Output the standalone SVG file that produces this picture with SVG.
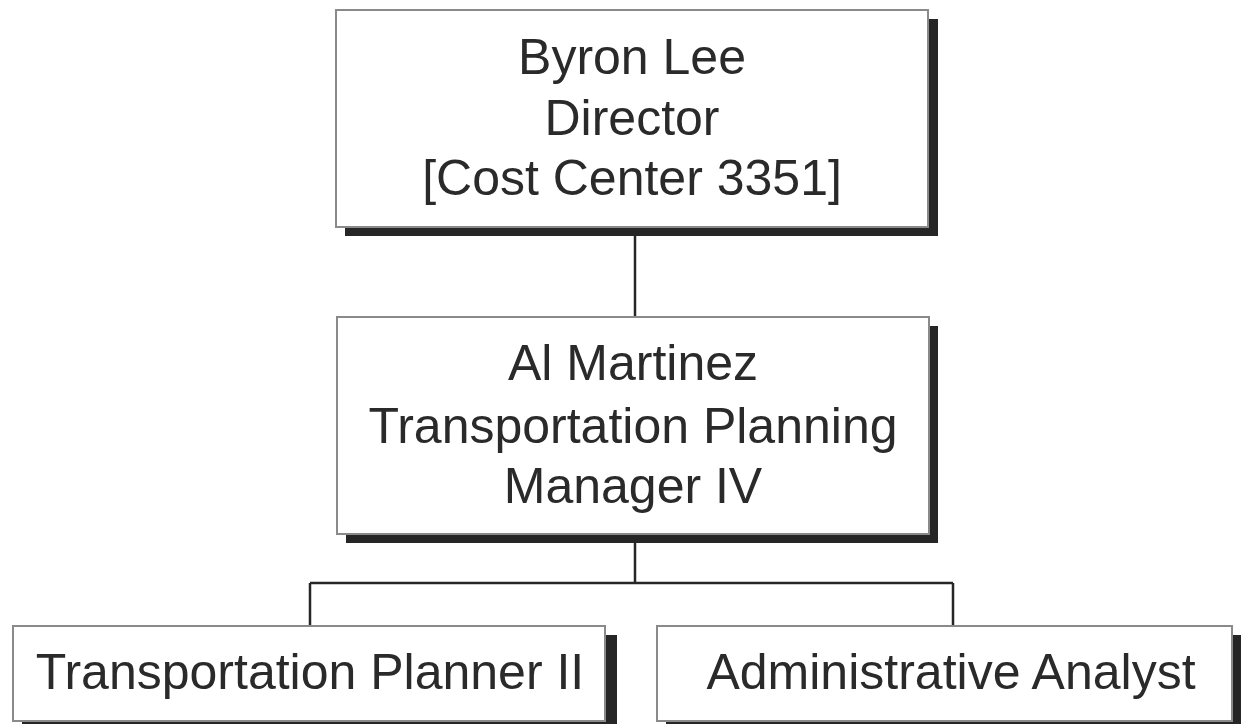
<svg xmlns="http://www.w3.org/2000/svg" width="1241" height="724" viewBox="0 0 1241 724">
<style>
.shadow{fill:#262626;stroke:none}
.box{fill:#ffffff;stroke:#8a8a8a;stroke-width:2}
.t{font-family:"Liberation Sans",Arial,sans-serif;font-size:50px;fill:#2a2a2a;text-anchor:middle}
.c{fill:none;stroke:#262626;stroke-width:2.5}
</style>
<rect width="1241" height="724" fill="#ffffff"/>
<g id="connectors">
<path class="c" d="M635 236 V317"/>
<path class="c" d="M635 543 V583 M310 583 H953 M310 583 V626 M953 583 V626"/>
</g>
<g id="node-director">
<rect class="shadow" x="345" y="19" width="593" height="217"/>
<rect class="box" x="336" y="10" width="592" height="217"/>
<text class="t" x="632" y="74">Byron Lee</text>
<text class="t" x="632" y="135">Director</text>
<text class="t" x="632" y="195">[Cost Center 3351]</text>
</g>
<g id="node-manager">
<rect class="shadow" x="346" y="326" width="592" height="217"/>
<rect class="box" x="337" y="317" width="592" height="217"/>
<text class="t" x="633" y="380">Al Martinez</text>
<text class="t" x="633" y="443">Transportation Planning</text>
<text class="t" x="633" y="503">Manager IV</text>
</g>
<g id="node-planner">
<rect class="shadow" x="22" y="635" width="595" height="95"/>
<rect class="box" x="13" y="626" width="592" height="95"/>
<text class="t" x="310" y="689">Transportation Planner II</text>
</g>
<g id="node-analyst">
<rect class="shadow" x="666" y="635" width="575" height="95"/>
<rect class="box" x="657" y="626" width="575" height="95"/>
<text class="t" x="951" y="689">Administrative Analyst</text>
</g>
</svg>
